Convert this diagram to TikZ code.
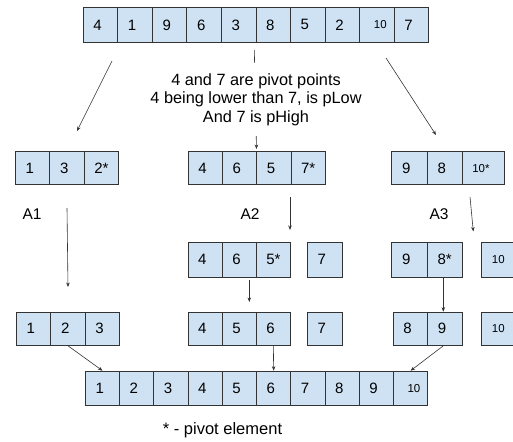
\documentclass[tikz,border=0pt]{standalone}
\usepackage{fontspec}
\setmainfont{Liberation Sans}
\usetikzlibrary{arrows.meta}
\definecolor{cellfill}{HTML}{CFE2F3}
\definecolor{cellline}{HTML}{333333}
\definecolor{arrowcol}{HTML}{333333}
\newcommand\tenA{\hspace*{4pt}{\fontsize{11.5}{13}\selectfont 10}}
\newcommand\tenB{{\fontsize{11.5}{13}\selectfont 10}}
\newcommand\tenS{\hspace*{-4pt}{\fontsize{11.5}{13}\selectfont 10*}}
\begin{document}
\begin{tikzpicture}[x=1pt,y=-1pt,
  cell/.style={rectangle, draw=cellline, line width=0.8pt, fill=cellfill,
    anchor=north west, inner xsep=9pt, inner ysep=0pt, text width=14pt, align=left,
    font=\fontsize{15}{18}\selectfont},
  conn/.style={draw=arrowcol, line width=0.6pt, -{Stealth[length=4.5pt,width=3.5pt]}},
  lbl/.style={font=\fontsize{15.5}{18}\selectfont, inner sep=0pt}]
\useasboundingbox (0,0) rectangle (513,441);
% row 1
\foreach \v [count=\i] in {4,1,9,6,3,8,5,2,\tenA,7}
  \node[cell, minimum width=34.56pt, minimum height=35.6pt] (t\i) at ({82.7+(\i-1)*34.56},6.7) {\v};
% row 2
\foreach \v [count=\i] in {1,3,2*}
  \node[cell, minimum width=34.4pt, minimum height=33.3pt] (b\i) at ({15+(\i-1)*34.4},151) {\v};
\foreach \v [count=\i] in {4,6,5,7*}
  \node[cell, minimum width=34.3pt, minimum height=33.3pt] (c\i) at ({187.7+(\i-1)*34.3},151) {\v};
\node[cell, minimum width=36pt, minimum height=33.3pt] (d1) at (390.7,151) {9};
\node[cell, minimum width=35pt, minimum height=33.3pt] (d2) at (426.7,151) {8};
\node[cell, minimum width=42.3pt, minimum height=33.3pt] (d3) at (461.7,151) {\tenS};
% row 3
\foreach \v [count=\i] in {4,6,5*}
  \node[cell, minimum width=34.1pt, minimum height=35pt] (e\i) at ({187.7+(\i-1)*34.1},241.7) {\v};
\node[cell, minimum width=35pt, minimum height=35pt] (e4) at (306.7,241.7) {7};
\node[cell, minimum width=36pt, minimum height=35pt] (f1) at (390.7,241.7) {9};
\node[cell, minimum width=35pt, minimum height=35pt] (f2) at (426.7,241.7) {8*};
\node[cell, minimum width=35pt, minimum height=35pt] (f3) at (481,241.7) {\tenB};
% row 4
\foreach \v [count=\i] in {1,2,3}
  \node[cell, minimum width=34.4pt, minimum height=33.3pt] (g\i) at ({16+(\i-1)*34.4},311.7) {\v};
\foreach \v [count=\i] in {4,5,6}
  \node[cell, minimum width=34.1pt, minimum height=33.3pt] (h\i) at ({187.7+(\i-1)*34.1},311.7) {\v};
\node[cell, minimum width=35pt, minimum height=33.3pt] (h4) at (306.7,311.7) {7};
\node[cell, minimum width=34.6pt, minimum height=33.3pt] (i1) at (392.7,311.7) {8};
\node[cell, minimum width=34.4pt, minimum height=33.3pt] (i2) at (427.3,311.7) {9};
\node[cell, minimum width=35pt, minimum height=33.3pt] (i3) at (481,311.7) {\tenB};
% row 5
\foreach \v [count=\i] in {1,2,3,4,5,6,7,8,9,\tenA}
  \node[cell, minimum width=34.23pt, minimum height=34.3pt] (s\i) at ({85+(\i-1)*34.23},370.7) {\v};
% free ends
\coordinate (p1) at (112,61);   \coordinate (p2) at (77,131);
\coordinate (q1) at (386,58);   \coordinate (q2) at (436,135);
\coordinate (m1) at (254.3,50); \coordinate (m2) at (256.5,149);
\coordinate (u1) at (67,208);   \coordinate (u2) at (68,287);
\coordinate (v1) at (290,197);  \coordinate (v2) at (290,230);
\coordinate (w1) at (470,197);  \coordinate (w2) at (473.3,231.5);
\coordinate (x1) at (249.3,280);\coordinate (x2) at (249.3,302);
% connectors
\draw[conn] (p1) -- (p2);
\draw[conn] (q1) -- (q2);
\draw[conn] (m1) -- (m2);
\draw[conn] (u1) -- (u2);
\draw[conn] (v1) -- (v2);
\draw[conn] (w1) -- (w2);
\draw[conn] (x1) -- (x2);
\draw[conn] (f2.south -| 443.3,0) -- (i2.north -| 443.3,0);
\draw[conn] (g2.south) -- (s1.north);
\draw[conn] (h3.south) -- (s6.north);
\draw[conn] (i2.south -| 443.3,0) -- (s10.north);
% texts
\node[fill=white, align=center, inner sep=0pt, minimum height=72pt,
  font=\fontsize{16.3}{18.3}\selectfont] (txt) at (256,99.5)
  {4 and 7 are pivot points\\4 being lower than 7, is pLow\\And 7 is pHigh};
\node[lbl] (A1) at (32,214) {A1};
\node[lbl] (A2) at (250,214) {A2};
\node[lbl] (A3) at (439,214) {A3};
\node[lbl, font=\fontsize{16.5}{18}\selectfont] (note) at (222.5,430) {* - pivot element};
\end{tikzpicture}
\end{document}
